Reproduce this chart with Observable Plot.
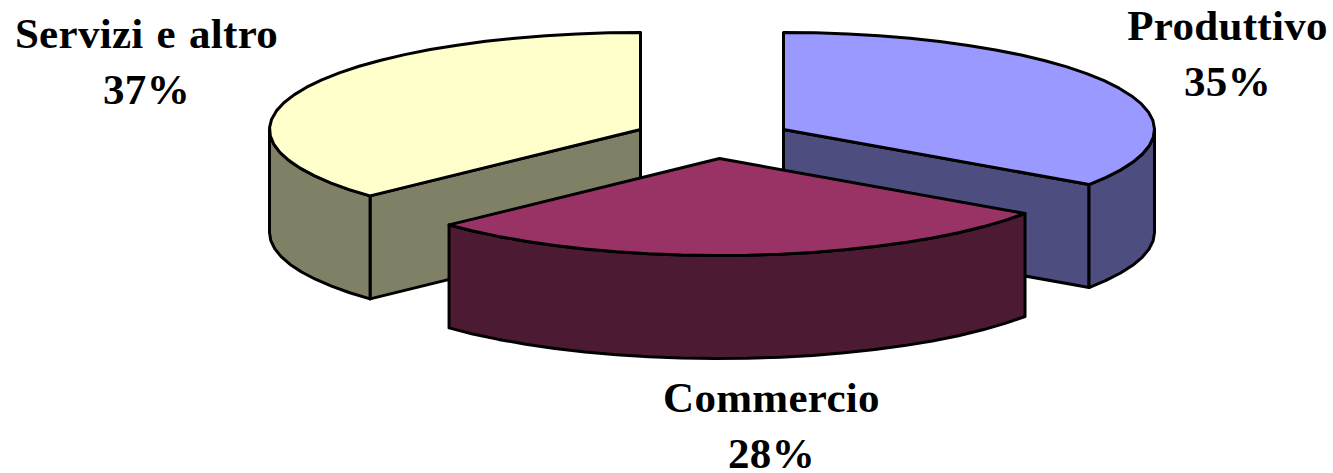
<!DOCTYPE html>
<html>
<head>
<meta charset="utf-8">
<style>
html,body{margin:0;padding:0;background:#fff;overflow:hidden}
svg{display:block}
text{letter-spacing:.3px;word-spacing:2px}
</style>
<script src="https://cdn.jsdelivr.net/npm/d3@7"></script>
<script src="https://cdn.jsdelivr.net/npm/@observablehq/plot@0.6"></script>
</head>
<body>
<div id="chart"></div>
<script>
const categories = ["Produttivo", "Commercio", "Servizi e altro"];
const shares = [34.6, 28.4, 37.0];

// Pie projection, in picture units
const layout = {
  Produttivo: {cx: 783, cy: 129, lx: 1227, ly: 50},
  Commercio: {cx: 719, cy: 158, lx: 771, ly: 422},
  "Servizi e altro": {cx: 640, cy: 129, lx: 146, ly: 58}
};
const rx = 371, ry = 97, depth = 103;
const topColor = {Produttivo: "#9999ff", Commercio: "#993366", "Servizi e altro": "#ffffcc"};
const sideColor = {Produttivo: "#4d4d80", Commercio: "#4d1a33", "Servizi e altro": "#808066"};

const total = d3.sum(shares);
let acc = 0;
const slices = categories.map((name, i) => {
  const a0 = acc / total * 360;
  acc += shares[i];
  return {name, a0, a1: acc / total * 360, share: shares[i], ...layout[name]};
});
const pt = (s, deg, dz = 0) => {
  const t = deg * Math.PI / 180;
  return {x: s.cx + rx * Math.sin(t), y: s.cy - ry * Math.cos(t) + dz};
};
const arc = (s, a0, a1, dz = 0) => {
  const n = Math.max(1, Math.round((a1 - a0) / 5));
  return d3.range(n + 1).map(k => pt(s, a0 + (a1 - a0) * k / n, dz));
};
const poly = (points, fill) => Plot.line(points, {
  x: "x", y: "y", fill, stroke: "#000", strokeWidth: 3,
  strokeLinejoin: "round", curve: "linear-closed"
});

const marks = [];
for (const name of ["Servizi e altro", "Produttivo", "Commercio"]) {
  const s = slices.find(d => d.name === name);
  const side = sideColor[name];
  const lo = Math.max(s.a0, 90), hi = Math.min(s.a1, 270);
  // radial wall seen through the gap
  const radialAngle = name === "Servizi e altro" ? s.a0 : name === "Produttivo" ? s.a1 : null;
  if (radialAngle !== null) {
    const apex = {x: s.cx, y: s.cy};
    const edge = pt(s, radialAngle);
    marks.push(poly([apex, edge, {x: edge.x, y: edge.y + depth}, {x: apex.x, y: apex.y + depth}], side));
  }
  // outer rim wall
  const upper = arc(s, lo, hi);
  const lower = arc(s, lo, hi, depth).reverse();
  marks.push(poly([...upper, ...lower], side));
  // top face
  marks.push(poly([{x: s.cx, y: s.cy}, ...arc(s, s.a0, s.a1)], topColor[name]));
}
marks.push(Plot.text(slices, {
  x: "lx", y: "ly",
  text: d => `${d.name}\n${Math.round(d.share)}%`,
  fontFamily: "Liberation Serif", fontWeight: "bold", fontSize: 43,
  lineHeight: 1.3, fill: "#000", textAnchor: "middle"
}));

const chart = Plot.plot({
  width: 1333, height: 473,
  margin: 0,
  x: {domain: [0, 1333], range: [0, 1333], axis: null},
  y: {domain: [0, 473], range: [0, 473], axis: null},
  style: {background: "#fff"},
  marks
});
document.getElementById("chart").append(chart);
</script>
</body>
</html>
